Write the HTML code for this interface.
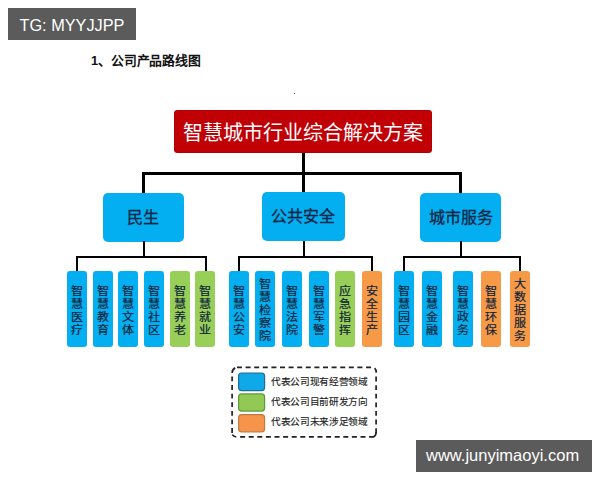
<!DOCTYPE html>
<html lang="zh-CN">
<head>
<meta charset="utf-8">
<style>
html,body{margin:0;padding:0;background:#fff;}
body{width:600px;height:480px;position:relative;overflow:hidden;font-family:"Liberation Sans",sans-serif;}
.abs{position:absolute;}
.badge{background:#5b5b5b;color:#fff;}
.ln{position:absolute;background:#000;}
.l2{position:absolute;background:#03aff0;border-radius:5px;color:#0b2545;font-size:16px;font-weight:400;-webkit-text-stroke:0.3px #0b2545;text-align:center;}
.sb{position:absolute;top:271px;width:20.2px;height:76px;border-radius:3px;color:#10243a;font-size:11px;font-weight:400;-webkit-text-stroke:0.2px #10243a;line-height:13.1px;text-align:center;}
.sb span{position:absolute;left:0;right:0;top:14px;transform:scaleX(1.1);}
.b{background:#03aff0;}
.g{background:#98cf58;}
.o{background:#f69a48;}
</style>
</head>
<body>
<!-- TG badge -->
<div class="abs badge" style="left:8px;top:8px;width:128px;height:32px;font-size:16.3px;line-height:35px;text-indent:11.5px;">TG: MYYJJPP</div>

<!-- title -->
<div class="abs" style="left:91.3px;top:52.3px;font-size:13px;font-weight:bold;color:#111;line-height:18px;transform:scaleX(0.985);transform-origin:0 0;">1、公司产品路线图</div>
<div class="abs" style="left:294px;top:93px;width:1px;height:1px;background:#555;"></div>

<!-- red top box -->
<div class="abs" style="left:174px;top:110px;width:257.8px;height:43px;background:#c00005;box-shadow:inset 0 0 0 0.6px #a80004;border-radius:4px;color:#fff;font-size:20px;line-height:43px;text-align:center;"><span style="position:relative;left:0.6px;top:1.5px;">智慧城市行业综合解决方案</span></div>

<!-- level 1 lines -->
<div class="ln" style="left:302px;top:153px;width:3px;height:40px;"></div>
<div class="ln" style="left:142px;top:171.5px;width:320px;height:3px;"></div>
<div class="ln" style="left:142px;top:171.5px;width:3px;height:21px;"></div>
<div class="ln" style="left:459px;top:171.5px;width:3px;height:21px;"></div>

<!-- level 2 boxes -->
<div class="l2" style="left:102.5px;top:192.5px;width:81px;height:49px;line-height:50px;">民生</div>
<div class="l2" style="left:261.5px;top:192px;width:83px;height:49px;line-height:50px;">公共安全</div>
<div class="l2" style="left:420px;top:192.5px;width:81px;height:49px;line-height:50px;">城市服务</div>

<!-- level 2 lines -->
<div class="ln" style="left:143px;top:241px;width:2px;height:16px;"></div>
<div class="ln" style="left:76px;top:255.5px;width:130.5px;height:2px;"></div>
<div class="ln" style="left:76px;top:255.5px;width:2px;height:16px;"></div>
<div class="ln" style="left:204.5px;top:255.5px;width:2px;height:16px;"></div>

<div class="ln" style="left:302.5px;top:241px;width:2px;height:16px;"></div>
<div class="ln" style="left:238px;top:255.5px;width:135px;height:2px;"></div>
<div class="ln" style="left:238px;top:255.5px;width:2px;height:16px;"></div>
<div class="ln" style="left:371px;top:255.5px;width:2px;height:16px;"></div>

<div class="ln" style="left:460px;top:241px;width:2px;height:16px;"></div>
<div class="ln" style="left:403px;top:255.5px;width:118px;height:2px;"></div>
<div class="ln" style="left:403px;top:255.5px;width:2px;height:16px;"></div>
<div class="ln" style="left:519px;top:255.5px;width:2px;height:16px;"></div>

<!-- small boxes group 1 -->
<div class="sb b" style="left:67px;"><span>智<br>慧<br>医<br>疗</span></div>
<div class="sb b" style="left:92.5px;"><span>智<br>慧<br>教<br>育</span></div>
<div class="sb b" style="left:118px;"><span>智<br>慧<br>文<br>体</span></div>
<div class="sb b" style="left:144px;"><span>智<br>慧<br>社<br>区</span></div>
<div class="sb g" style="left:169.5px;"><span>智<br>慧<br>养<br>老</span></div>
<div class="sb g" style="left:195.3px;"><span>智<br>慧<br>就<br>业</span></div>

<!-- group 2 -->
<div class="sb b" style="left:228.8px;"><span>智<br>慧<br>公<br>安</span></div>
<div class="sb b" style="left:255.3px;"><span style="top:7px">智<br>慧<br>检<br>察<br>院</span></div>
<div class="sb b" style="left:281.9px;"><span>智<br>慧<br>法<br>院</span></div>
<div class="sb b" style="left:308.8px;"><span>智<br>慧<br>军<br>警</span></div>
<div class="sb g" style="left:335.3px;"><span>应<br>急<br>指<br>挥</span></div>
<div class="sb o" style="left:361.9px;"><span>安<br>全<br>生<br>产</span></div>

<!-- group 3 -->
<div class="sb b" style="left:393.8px;top:270.5px;"><span>智<br>慧<br>园<br>区</span></div>
<div class="sb b" style="left:422.1px;top:270.5px;"><span>智<br>慧<br>金<br>融</span></div>
<div class="sb b" style="left:452.9px;top:270.5px;"><span>智<br>慧<br>政<br>务</span></div>
<div class="sb o" style="left:480.8px;top:270.5px;"><span>智<br>慧<br>环<br>保</span></div>
<div class="sb o" style="left:510px;top:270.5px;"><span style="top:7px">大<br>数<br>据<br>服<br>务</span></div>

<!-- legend -->
<svg class="abs" style="left:0;top:0;" width="600" height="480">
<g fill="none" stroke="#222" stroke-width="1.7">
<path d="M237 367.4H372" stroke-dasharray="5 3.6"/>
<path d="M376.1 376.6V434" stroke-dasharray="4.8 3.8"/>
<path d="M374.1 436.9H238" stroke-dasharray="5 3.6"/>
<path d="M232.1 376.5V434" stroke-dasharray="4.8 3.8"/>
<path d="M232.1 373 Q232.3 369.2 235.2 367.9"/>
<path d="M374.6 368.2 Q376.1 369.5 376.3 372.6"/>
<path d="M376.2 432 Q376 435.6 373.6 436.8"/>
<path d="M232.2 434.6 Q233.5 436.6 236.3 437"/>
</g>
<rect x="238.6" y="373" width="26" height="17.6" rx="3" fill="#0ea9e6" stroke="#1f6c9a" stroke-width="1.2"/>
<rect x="238.6" y="393.9" width="26" height="17.2" rx="3" fill="#92c955" stroke="#5e9a3b" stroke-width="1.2"/>
<rect x="238.6" y="414.6" width="26" height="17.2" rx="3" fill="#f5944a" stroke="#c47a40" stroke-width="1.2"/>
</svg>
<div class="abs" style="left:270.9px;top:371.4px;font-size:10px;line-height:21.04px;transform:scale(0.965);transform-origin:0 0;color:#222;-webkit-text-stroke:0.15px #222;white-space:nowrap;">代表公司现有经营领域<br>代表公司目前研发方向<br>代表公司未来涉足领域</div>

<!-- watermark -->
<div class="abs badge" style="left:416px;top:440px;width:176px;height:32px;font-size:16.5px;line-height:30px;text-indent:10px;">www.junyimaoyi.com</div>
</body>
</html>
